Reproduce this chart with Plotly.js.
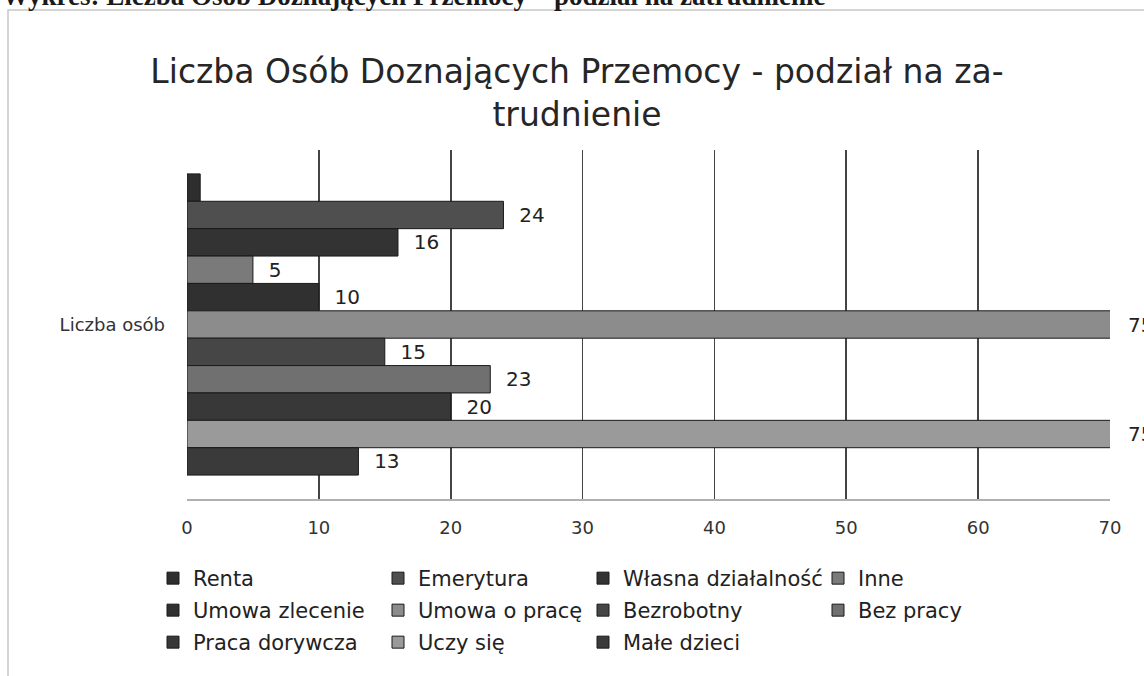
<!DOCTYPE html>
<html>
<head>
<meta charset="utf-8">
<script src="https://cdn.plot.ly/plotly-3.0.1.min.js"></script>
<style>html,body{margin:0;padding:0;background:#fff;}#chart{width:1144px;height:676px;}</style>
</head>
<body>
<div id="chart"></div>
<script>
// ---- data (series listed top-to-bottom as drawn) ----
const category = ['Liczba osób'];
const seriesNames = ['Renta','Emerytura','Własna działalność','Inne','Umowa zlecenie','Umowa o pracę','Bezrobotny','Bez pracy','Praca dorywcza','Uczy się','Małe dzieci'];
const seriesValues = [1, 24, 16, 5, 10, 75, 15, 23, 20, 75, 13];
const labelShown = [false, true, true, true, true, true, true, true, true, true, true];
const seriesColors = ['#2e2e2e','#4f4f4f','#333333','#7a7a7a','#303030','#8c8c8c','#464646','#707070','#383838','#9a9a9a','#3a3a3a'];
const xTicks = [0, 10, 20, 30, 40, 50, 60, 70];
const xMax = 70;
const legendColumns = [
  ['Renta','Umowa zlecenie','Praca dorywcza'],
  ['Emerytura','Umowa o pracę','Uczy się'],
  ['Własna działalność','Bezrobotny','Małe dzieci'],
  ['Inne','Bez pracy']
];

const W = 1144, H = 676;
const M = {l: 187, r: 34, t: 150, b: 177, autoexpand: false};
const FONT = 'DejaVu Sans, Verdana, sans-serif';
const bargap = 0.137;
const legendNames = ['legend','legend2','legend3','legend4'];
const legendColX = [153, 378, 583, 818];
const PAD = '\u00a0\u00a0';   // gap between a bar end and its label

const traces = seriesNames.map((name, i) => {
  const col = legendColumns.findIndex(c => c.includes(name));
  const v = seriesValues[i];
  return {
    type: 'bar', orientation: 'h', name: name,
    y: category, x: [v],
    text: [labelShown[i] && v <= xMax ? PAD + String(v) : ''],
    textposition: 'outside',
    textfont: {family: FONT, size: 20, color: '#222'},
    cliponaxis: true,
    marker: {color: seriesColors[i], line: {color: '#1a1a1a', width: 1}},
    legend: legendNames[col],
    legendgroup: name,
    hoverinfo: 'name+x'
  };
});

const pw = W - M.l - M.r, ph = H - M.t - M.b;

// labels for bars running past the axis end, placed at the axis end
const n = seriesNames.length;
const slot = (1 - bargap) / n;
const annotations = [];
seriesValues.forEach((v, i) => {
  if (v > xMax && labelShown[i]) {
    annotations.push({
      xref: 'x', yref: 'y', x: xMax, y: -(1 - bargap) / 2 + (i + 0.5) * slot,
      text: String(v), showarrow: false, xanchor: 'left', xshift: 16,
      font: {family: FONT, size: 20, color: '#222'}
    });
  }
});
// document caption cut off at the top of the picture
annotations.push({
  xref: 'paper', yref: 'paper',
  x: (0 - M.l) / pw, y: (H - M.b + 4) / ph,
  xanchor: 'left', yanchor: 'middle', showarrow: false,
  text: 'Wykres: Liczba Osób Doznających Przemocy – podział na zatrudnienie',
  font: {family: 'Liberation Serif, serif', size: 27, color: '#1a1a1a', weight: 'bold'}
});

const legends = {};
legendNames.forEach((ln, k) => {
  legends[ln] = {
    xref: 'container', yref: 'container',
    x: legendColX[k] / W, y: 1 - 558 / H, xanchor: 'left', yanchor: 'top',
    orientation: 'v', bgcolor: 'rgba(0,0,0,0)', borderwidth: 0,
    font: {family: FONT, size: 21, color: '#222'},
    tracegroupgap: 1.7, itemclick: false, itemdoubleclick: false
  };
});

const layout = Object.assign({
  width: W, height: H, margin: M,
  paper_bgcolor: '#fff', plot_bgcolor: 'rgba(0,0,0,0)',
  font: {family: FONT, color: '#222'},
  showlegend: true,
  barmode: 'group', bargap: bargap, bargroupgap: 0,
  title: {
    text: 'Liczba Osób Doznających Przemocy - podział na za-<br>trudnienie',
    font: {family: FONT, size: 33, color: '#262626'},
    x: 577 / W, xanchor: 'center', xref: 'container',
    y: 1 - 83 / H, yanchor: 'top', yref: 'container'
  },
  xaxis: {
    range: [0, xMax], tickvals: xTicks, ticktext: xTicks.map(String),
    showgrid: true, gridcolor: '#444444', gridwidth: 1.6,
    zeroline: false, showline: true, linecolor: '#b0b0b0', linewidth: 1.5,
    ticks: '', ticklabelstandoff: 12,
    tickfont: {family: FONT, size: 18, color: '#333'}
  },
  yaxis: {
    type: 'category', autorange: 'reversed',
    showgrid: false, zeroline: false, showline: false, ticks: '',
    ticklabelstandoff: 21,
    tickfont: {family: FONT, size: 18, color: '#333'}
  },
  annotations: annotations,
  shapes: [{
    type: 'rect', xref: 'paper', yref: 'paper', layer: 'below',
    x0: (8 - M.l) / pw, x1: (1160 - M.l) / pw,
    y0: (H - M.b - 700) / ph, y1: (H - M.b - 10) / ph,
    line: {color: '#c8c8c8', width: 1.5}, fillcolor: 'rgba(0,0,0,0)'
  }]
}, legends);

Plotly.newPlot('chart', traces, layout, {displayModeBar: false, staticPlot: true});
</script>
</body>
</html>
